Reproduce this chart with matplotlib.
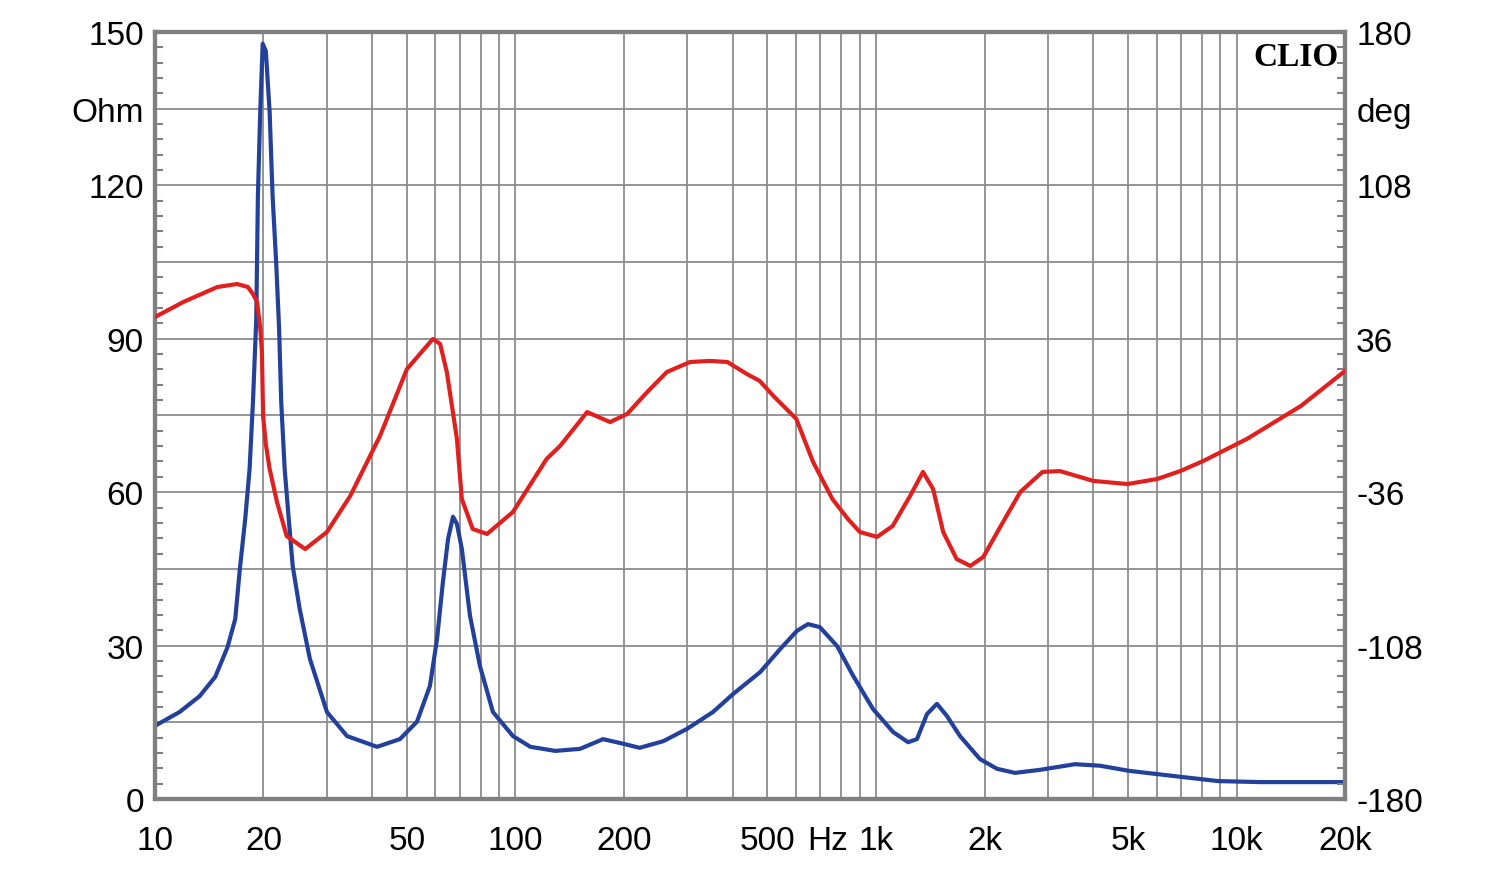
import numpy as np
import matplotlib
matplotlib.use("Agg")
from matplotlib import pyplot as plt
from matplotlib.ticker import MultipleLocator

# impedance magnitude (Ohm)
imp_freq = [10, 11.7, 13.3, 14.7, 15.9, 16.7, 17.2, 17.8, 18.3, 18.7, 19.1, 19.3,
            19.6, 19.9, 20.3, 20.8, 21.2, 21.7, 22.1, 22.4, 22.9, 23.5, 24.1, 25.2,
            26.9, 30.0, 34.1, 41.3, 47.8, 53.3, 57.9, 60.6, 62.9, 65.0, 67.1, 68.8,
            71.0, 74.8, 79.7, 86.6, 98.4, 110, 129, 151, 175, 199, 221, 257, 299,
            353, 401, 477, 542, 604, 648, 699, 780, 864, 981, 1115, 1227, 1299,
            1385, 1476, 1574, 1710, 1943, 2166, 2430, 2851, 3565, 4182, 5034,
            7063, 8886, 11620, 20000]
imp_ohm = [14.3, 17.0, 20.1, 23.9, 29.7, 35.2, 45.0, 54.8, 64.5, 77.6, 93.9, 117.9,
           134.9, 147.7, 146.3, 134.4, 117.9, 104.6, 91.9, 77.6, 64.5, 54.8, 45.6, 37.2,
           27.4, 17.0, 12.3, 10.2, 11.7, 15.1, 22.1, 31.3, 42.4, 50.8, 55.2, 53.8,
           48.9, 35.8, 26.0, 17.0, 12.3, 10.2, 9.4, 9.8, 11.7, 10.8, 10.0, 11.3, 13.7,
           17.0, 20.5, 24.8, 29.3, 32.9, 34.2, 33.6, 29.9, 24.1, 17.6, 13.1, 11.1, 11.7,
           16.6, 18.6, 16.2, 12.3, 7.8, 5.9, 5.1, 5.7, 6.8, 6.5, 5.5,
           4.3, 3.5, 3.3, 3.3]

# phase (deg)
ph_freq = [10, 12.0, 14.9, 16.9, 18.1, 18.7, 19.2, 19.6, 19.8, 19.95, 20.3, 20.8,
           21.8, 23.2, 26.1, 30.0, 34.8, 42.1, 50.0, 59.0, 61.8, 64.5, 68.8, 71.0,
           76.1, 83.4, 98.4, 122, 133, 158, 183, 204, 232, 263, 305, 346, 387, 438,
           476, 519, 601, 669, 757, 836, 902, 1007, 1112, 1243, 1350, 1440, 1536,
           1674, 1827, 1985, 2218, 2514, 2896, 3238, 4003, 4982, 6026, 6981, 8078,
           9170, 10690, 15100, 20000]
ph_deg = [46.2, 53.3, 60.3, 61.7, 60.3, 57.0, 53.3, 40.6, 29.8, -0.2, -13.4, -25.1,
          -40.6, -56.6, -62.7, -54.7, -37.8, -9.6, 21.8, 35.9, 33.6, 20.4, -11.0, -39.2,
          -53.3, -55.6, -45.3, -20.4, -14.3, 1.6, -3.1, 0.7, 11.0, 20.4, 25.1, 25.6, 25.1, 19.5,
          16.2, 9.2, -1.6, -21.8, -39.2, -48.6, -54.7, -57.0, -51.9, -37.8, -26.5, -34.5, -54.7,
          -67.4, -70.6, -66.4, -51.9, -35.9, -26.5, -26.1, -30.7, -32.2, -29.8, -26.1, -21.4,
          -16.7, -11.0, 4.5, 20.9]

x_major = [10, 20, 50, 100, 200, 500, 1000, 2000, 5000, 10000, 20000]
x_labels = ["10", "20", "50", "100", "200", "500", "1k", "2k", "5k", "10k", "20k"]
left_labels = ["0", "", "30", "", "60", "", "90", "", "120", "Ohm", "150"]
right_labels = ["-180", "", "-108", "", "-36", "", "36", "", "108", "deg", "180"]

gray = "#808080"
plt.rcParams["font.family"] = ["Liberation Sans", "DejaVu Sans"]

fig = plt.figure(figsize=(15, 8.7), dpi=100)
ax = fig.add_axes([0.1033, 0.0805, 0.7934, 0.8816])
ax2 = ax.twinx()

ax.plot(imp_freq, imp_ohm, color="#23419b", lw=3.0, zorder=3,
        solid_joinstyle="round")
ax2.plot(ph_freq, ph_deg, color="#e0201e", lw=3.0, zorder=3,
         solid_joinstyle="round")

ax.set_xscale("log")
ax.set_xlim(10, 20000)
ax.set_ylim(0, 150)
ax2.set_ylim(-180, 180)

# vertical grid at every 1..9 x decade
grid_x = [m * 10 ** e for e in range(1, 5) for m in range(1, 10)]
grid_x = [g for g in grid_x if 10 < g < 20000]
ax.set_xticks(grid_x, minor=True)
ax.set_xticks(x_major, x_labels)
ax.tick_params(axis="x", which="both", length=0, pad=19, labelsize=24)
ax.grid(True, axis="x", which="both", color="#8c8c8c", lw=1.3)

ax.set_yticks(np.arange(0, 151, 15), left_labels)
ax.yaxis.set_minor_locator(MultipleLocator(3))
ax.tick_params(axis="y", which="major", length=0, pad=8, labelsize=24)
ax.tick_params(axis="y", which="minor", direction="in", length=6, width=1.5, color=gray)
ax.grid(True, axis="y", which="major", color="#8c8c8c", lw=1.3)

ax2.set_yticks(np.arange(-180, 181, 36), right_labels)
ax2.yaxis.set_minor_locator(MultipleLocator(7.2))
ax2.tick_params(axis="y", which="major", length=0, pad=8, labelsize=24)
ax2.tick_params(axis="y", which="minor", direction="in", length=6, width=1.5, color=gray)

for a in (ax, ax2):
    for s in a.spines.values():
        s.set_color(gray)
        s.set_linewidth(3)

ax.annotate("Hz", xy=(736, 0), xycoords=("data", "axes fraction"),
            xytext=(0, -19), textcoords="offset points",
            ha="center", va="top", fontsize=24)

ax2.text(0.995, 0.988, "CLIO", transform=ax2.transAxes, ha="right", va="top",
         fontsize=24, fontweight="bold", family="Liberation Serif")

fig.savefig("out.png", dpi=100)
